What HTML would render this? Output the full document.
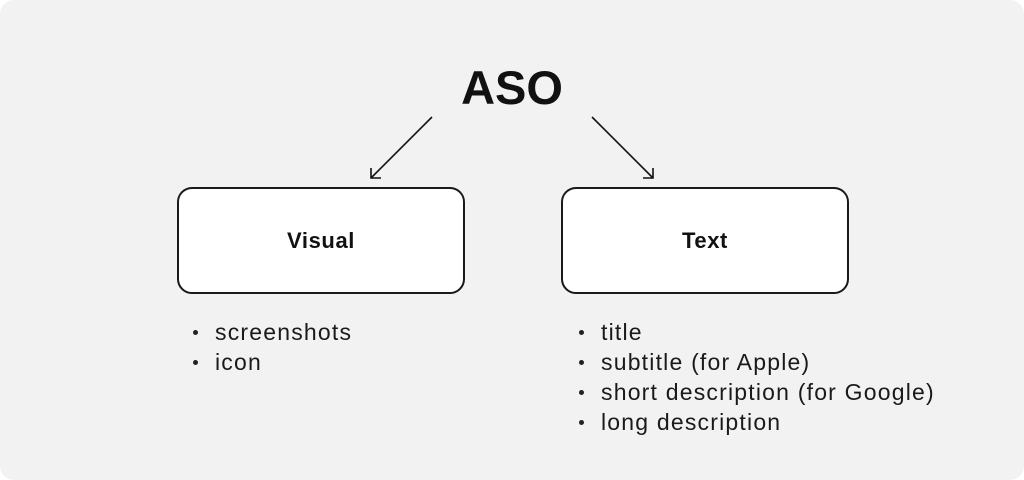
<!DOCTYPE html>
<html><head><style>
html,body{margin:0;padding:0;background:#fff;}
.c{position:relative;width:1024px;height:480px;background:#f2f2f2;border-radius:14px;overflow:hidden;font-family:"Liberation Sans",Arial,sans-serif;color:#111;}
.t{position:absolute;left:0;width:1024px;top:60px;text-align:center;font-weight:bold;font-size:47px;line-height:56px;}
.b{position:absolute;top:187px;width:284px;height:103px;border:2px solid #1a1a1a;border-radius:15px;background:#fff;font-weight:bold;font-size:22px;letter-spacing:0.6px;display:flex;align-items:center;justify-content:center;}
ul{position:absolute;margin:0;padding:0;list-style:none;font-size:23px;letter-spacing:1.2px;line-height:30px;color:#1a1a1a;}
li{position:relative;padding-left:21px;}
li:before{content:"";position:absolute;left:-1px;top:13px;width:5px;height:5px;border-radius:50%;background:#222;}
</style></head><body>
<div class="c">
<div class="t">ASO</div>
<svg width="1024" height="480" style="position:absolute;left:0;top:0">
<g stroke="#111" stroke-width="1.6" fill="none">
<line x1="432" y1="117" x2="371" y2="178"/>
<polyline points="371,168 371,178 381,178"/>
<line x1="592" y1="117" x2="653" y2="178"/>
<polyline points="653,168 653,178 643,178"/>
</g></svg>
<div class="b" style="left:177px">Visual</div>
<div class="b" style="left:561px">Text</div>
<ul style="left:194px;top:317px"><li>screenshots</li><li>icon</li></ul>
<ul style="left:580px;top:317px"><li>title</li><li>subtitle (for Apple)</li><li>short description (for Google)</li><li>long description</li></ul>
</div>
</body></html>
